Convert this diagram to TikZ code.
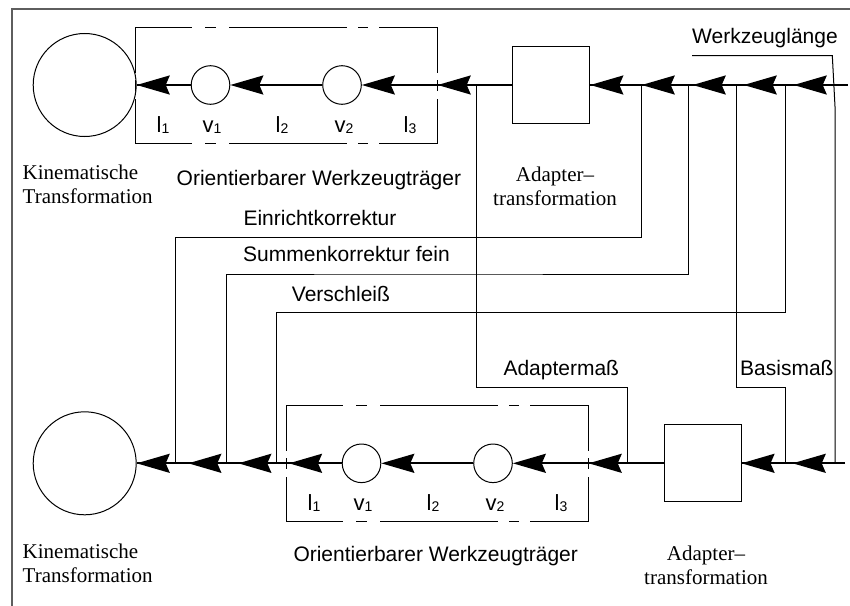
\documentclass[tikz,border=0pt]{standalone}
\usepackage{fontspec}
\setmainfont{Liberation Serif}
\setsansfont{Liberation Sans}
\usetikzlibrary{arrows.meta}
\definecolor{framegray}{HTML}{5E5E5E}
% subscript index for the carrier symbols
\newcommand\idx[1]{\raisebox{-1.5pt}{\fontsize{14}{14}\selectfont #1}}

\tikzset{
  thinline/.style={line width=1pt},
  mainline/.style={line width=2pt},
  arr/.style={line width=2pt,-{Stealth[length=33pt,width=19pt,inset=4pt]}},
  joint/.style={circle,draw,line width=1pt,minimum size=38.6pt,inner sep=0pt},
  kin/.style={circle,draw,line width=1pt,minimum size=103pt,inner sep=0pt},
  adbox/.style={rectangle,draw,line width=1pt,minimum size=77pt,inner sep=0pt},
  sanslbl/.style={font=\sffamily\fontsize{21}{24}\selectfont,inner sep=0pt},
  seriflbl/.style={font=\rmfamily\fontsize{21}{24}\selectfont,inner sep=0pt},
  sym/.style={font=\sffamily\fontsize{22}{24}\selectfont,inner sep=0pt,anchor=base},
  % orientable tool carrier: broken frame, two joints v1, v2, links l1..l3
  pics/carrier/.style={code={
    \foreach \a/\b in {0/57,70/81,94/212,223/233,244/302.7}{
      \draw[thinline] (\a,-57.5) -- (\b,-57.5);
      \draw[thinline] (\a,58.3) -- (\b,58.3);
    }
    \foreach \a/\b in {-57.5/-12.5,-5/6,14/58.3}{
      \draw[thinline] (0,\a) -- (0,\b);
      \draw[thinline] (302.7,\a) -- (302.7,\b);
    }
    \coordinate (-out) at (0,0);
    \coordinate (-in) at (302.7,0);
    \node[joint] (-v1) at (75.5,0) {};
    \node[joint] (-v2) at (207,0) {};
    \draw[arr] (-in) -- (-v2);
    \draw[arr] (-v2) -- (-v1);
    \node[sym] (-l1) at (28,47) {l\idx{1}};
    \node[sym] (-lv1) at (77,47) {v\idx{1}};
    \node[sym] (-l2) at (147,47) {l\idx{2}};
    \node[sym] (-lv2) at (209,47) {v\idx{2}};
    \node[sym] (-l3) at (275,47) {l\idx{3}};
  }}
}

\begin{document}
\begin{tikzpicture}[x=1pt,y=-1pt]
\useasboundingbox (0,0) rectangle (850,605);

% outer frame
\draw[framegray,line width=2pt] (852,9.3) -- (12,9.3) -- (12,607);

% upper chain
\coordinate (tEnd) at (847.7,85);
\coordinate (jW) at (835,85);
\coordinate (jV) at (785.7,85);
\coordinate (jB) at (736.7,85);
\coordinate (jS) at (688.7,85);
\coordinate (jE) at (641,85);
\node[adbox] (ad1) at (551.3,85) {};
\coordinate (jA) at (476,85);
\pic (tc1) at (135,85) {carrier};
\node[kin] (kin1) at (84.7,85) {};

% lower chain
\coordinate (bEnd) at (845,463.3);
\coordinate (kW) at (835,463.3);
\coordinate (kB) at (785.7,463.3);
\node[adbox] (ad2) at (702.5,463.3) {};
\coordinate (kA) at (627.3,463.3);
\pic (tc2) at (286,463.3) {carrier};
\coordinate (kV) at (276,463.3);
\coordinate (kS) at (226.7,463.3);
\coordinate (kE) at (175.7,463.3);
\node[kin] (kin2) at (84.7,463.3) {};

% corners of the offset lines
\coordinate (wA) at (692,55.5);
\coordinate (wB) at (832.3,55.5);
\coordinate (wC) at (835,106.7);
\coordinate (cE) at (400,237.7);
\coordinate (cS) at (400,274);
\coordinate (cV) at (400,312.5);
\coordinate (cA) at (550,387.7);
\coordinate (cB) at (760,387.7);

\draw[thinline] (wA) -- (wB) -- (wC) -- (kW);
\draw[thinline] (jE) |- (cE) -| (kE);
\draw[thinline] (jS) |- (cS) -| (kS);
\draw[thinline] (jV) |- (cV) -| (kV);
\draw[thinline] (jB) |- (cB) -| (kB);
\draw[thinline] (jA) |- (cA) -| (kA);

% upper main line
\draw[mainline] (tEnd) -- (ad1.east);
\draw[mainline] (ad1.west) -- (tc1-in);
\draw[mainline] (tc1-v1) -- (kin1);
\draw[arr,shorten >=8pt] (jW) -- (jV);
\draw[arr,shorten >=7pt] (jV) -- (jB);
\draw[arr,shorten >=4pt] (jB) -- (jS);
\draw[arr,shorten >=0.7pt] (jS) -- (jE);
\draw[arr] (jE) -- (ad1);
\draw[arr] (jA) -- (tc1-in);
\draw[arr] (tc1-v1) -- (kin1);

% lower main line
\draw[mainline] (bEnd) -- (ad2.east);
\draw[mainline] (ad2.west) -- (tc2-in);
\draw[mainline] (tc2-v1) -- (kin2);
\draw[arr,shorten >=7pt] (kW) -- (kB);
\draw[arr] (kB) -- (ad2);
\draw[arr] (kA) -- (tc2-in);
\draw[arr,shorten >=3pt] (tc2-v1) -- (tc2-out);
\draw[arr,shorten >=11.6pt] (kV) -- (kS);
\draw[arr,shorten >=12.6pt] (kS) -- (kE);
\draw[arr] (kE) -- (kin2);

% labels
\node[sanslbl,anchor=base west] (lblW) at (692,43.3) {Werkzeuglänge};
\node[sanslbl,anchor=base west] (lblE) at (243.3,225) {Einrichtkorrektur};
\node[sanslbl,anchor=base west] (lblS) at (243,261.7) {Summenkorrektur fein};
\node[sanslbl,anchor=base west] (lblV) at (291.7,301.7) {Verschleiß};
\node[sanslbl,anchor=base west] (lblA) at (503.3,375.7) {Adaptermaß};
\node[sanslbl,anchor=base west] (lblB) at (740,375.7) {Basismaß};
\node[sanslbl,anchor=base west] (otc1) at (176.5,185) {Orientierbarer Werkzeugträger};
\node[sanslbl,anchor=base west] (otc2) at (293.3,561) {Orientierbarer Werkzeugträger};
\node[seriflbl,anchor=base west] (tk1) at (22.5,179.5)
  {\begin{tabular}[t]{@{}l@{}}Kinematische\\Transformation\end{tabular}};
\node[seriflbl,anchor=base west] (tk2) at (22.5,558.3)
  {\begin{tabular}[t]{@{}l@{}}Kinematische\\Transformation\end{tabular}};
\node[seriflbl,anchor=base] (ta1) at (555,181)
  {\begin{tabular}[t]{@{}c@{}}Adapter–\\transformation\end{tabular}};
\node[seriflbl,anchor=base] (ta2) at (706,560)
  {\begin{tabular}[t]{@{}c@{}}Adapter–\\transformation\end{tabular}};
\end{tikzpicture}
\end{document}
